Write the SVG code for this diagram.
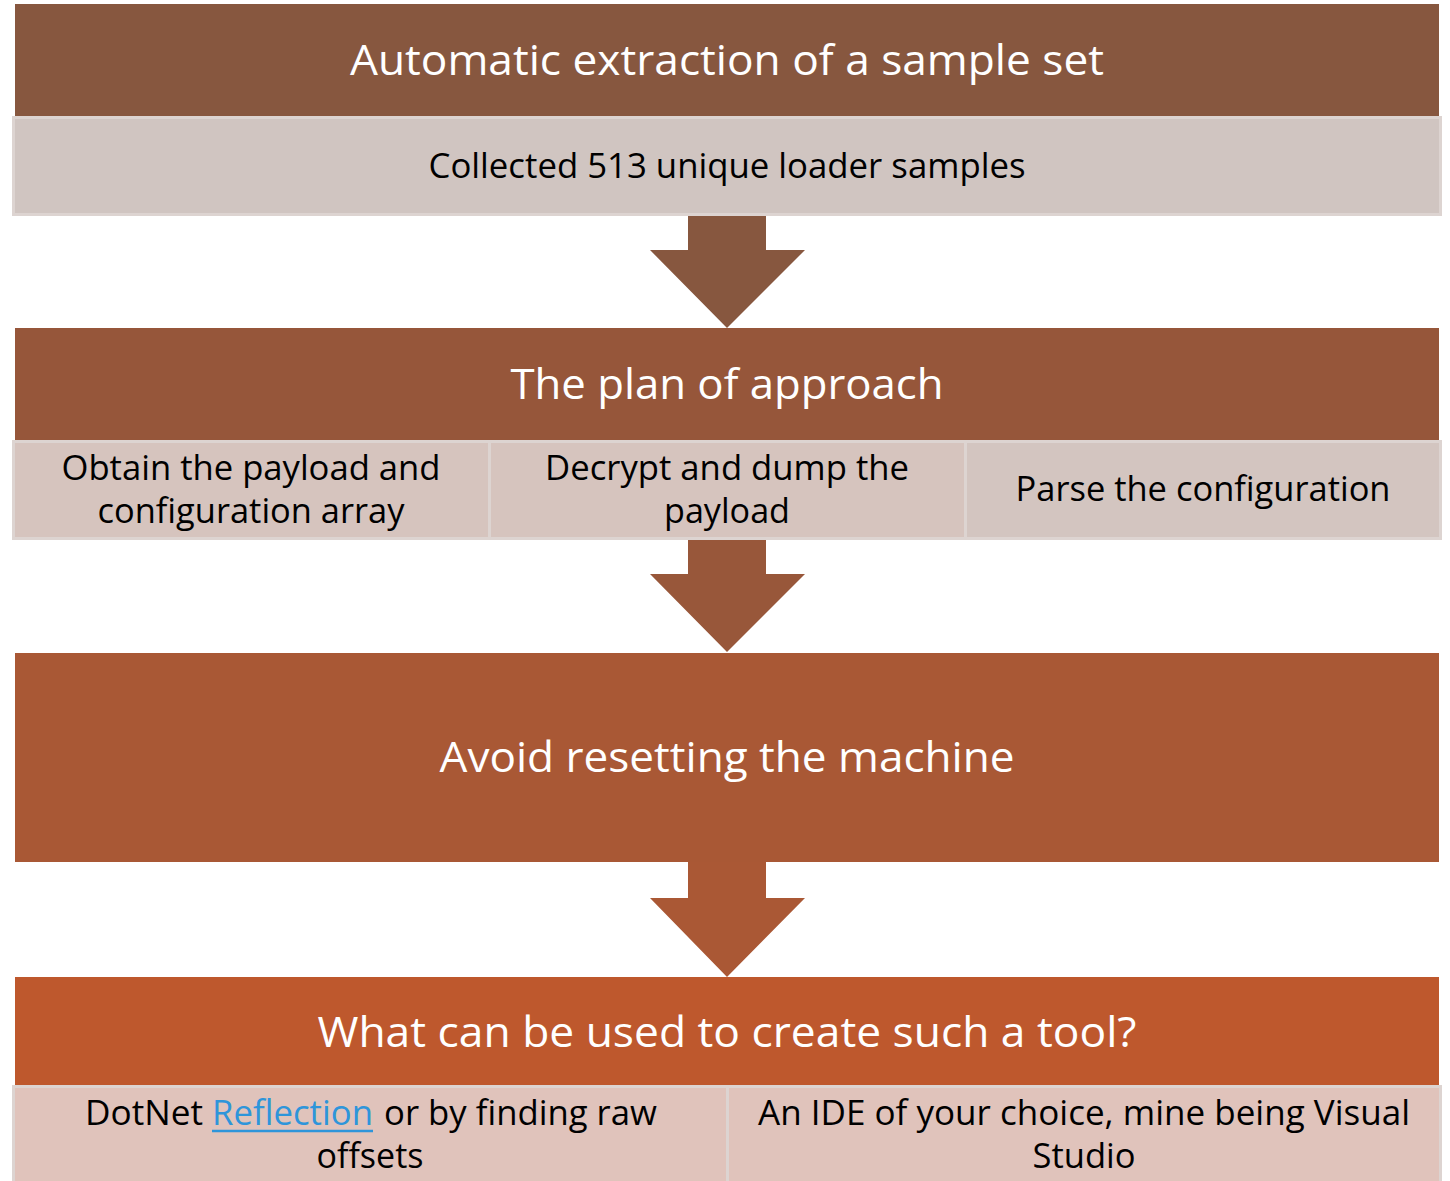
<svg xmlns="http://www.w3.org/2000/svg" width="1450" height="1181" viewBox="0 0 1450 1181">
  <style>
    .title { font-family: "Open Sans", "Liberation Sans", sans-serif; font-size: 42px; fill: #ffffff; text-anchor: middle; }
    .item { font-family: "Open Sans", "Liberation Sans", sans-serif; font-size: 34px; fill: #000000; text-anchor: middle; }
    .itemL { font-family: "Open Sans", "Liberation Sans", sans-serif; font-size: 34px; fill: #000000; }
    .link { font-family: "Open Sans", "Liberation Sans", sans-serif; font-size: 34px; fill: #2E95DA; }
    .cell { stroke: #DDD4D1; stroke-width: 3; }
  </style>
  <rect width="1450" height="1181" fill="#ffffff"/>

  <!-- Step 1 -->
  <g id="step1">
    <rect x="15" y="4" width="1424" height="112" fill="#87573F"/>
    <text class="title" x="727" y="75" textLength="754" lengthAdjust="spacingAndGlyphs">Automatic extraction of a sample set</text>
  </g>
  <g id="step1-detail">
    <rect class="cell" x="13.5" y="117.5" width="1427" height="97" fill="#D0C5C1"/>
    <text class="item" x="727" y="178" textLength="597" lengthAdjust="spacingAndGlyphs">Collected 513 unique loader samples</text>
  </g>

  <!-- Step 2 -->
  <g id="step2">
    <rect x="15" y="328" width="1424" height="112" fill="#96563A"/>
    <text class="title" x="727" y="399" textLength="433" lengthAdjust="spacingAndGlyphs">The plan of approach</text>
  </g>
  <g id="step2-obtain">
    <rect class="cell" x="13.5" y="441.5" width="476" height="97" fill="#D6C4BE"/>
    <text class="item" x="251" y="480" textLength="379" lengthAdjust="spacingAndGlyphs">Obtain the payload and</text>
    <text class="item" x="251" y="523" textLength="307" lengthAdjust="spacingAndGlyphs">configuration array</text>
  </g>
  <g id="step2-decrypt">
    <rect class="cell" x="489.5" y="441.5" width="476" height="97" fill="#D6C4BE"/>
    <text class="item" x="727" y="480" textLength="364" lengthAdjust="spacingAndGlyphs">Decrypt and dump the</text>
    <text class="item" x="727" y="523" textLength="126" lengthAdjust="spacingAndGlyphs">payload</text>
  </g>
  <g id="step2-parse">
    <rect class="cell" x="965.5" y="441.5" width="475" height="97" fill="#D3C5C0"/>
    <text class="item" x="1203" y="501" textLength="375" lengthAdjust="spacingAndGlyphs">Parse the configuration</text>
  </g>

  <!-- Step 3 -->
  <g id="step3">
    <rect x="15" y="653" width="1424" height="209" fill="#A95835"/>
    <text class="title" x="727" y="772" textLength="575" lengthAdjust="spacingAndGlyphs">Avoid resetting the machine</text>
  </g>

  <!-- Step 4 -->
  <g id="step4">
    <rect x="15" y="977" width="1424" height="108" fill="#BE582D"/>
    <text class="title" x="727" y="1047" textLength="819" lengthAdjust="spacingAndGlyphs">What can be used to create such a tool?</text>
  </g>
  <g id="step4-dotnet">
    <rect class="cell" x="13.5" y="1086.5" width="714" height="100" fill="#E0C3BB"/>
    <text class="itemL" x="85" y="1125" textLength="118" lengthAdjust="spacingAndGlyphs">DotNet</text>
    <text class="link" x="212" y="1125" textLength="161" lengthAdjust="spacingAndGlyphs">Reflection</text>
    <line x1="212" y1="1131" x2="373" y2="1131" stroke="#2E95DA" stroke-width="2.5"/>
    <text class="itemL" x="384" y="1125" textLength="273" lengthAdjust="spacingAndGlyphs">or by finding raw</text>
    <text class="item" x="370" y="1168" textLength="107" lengthAdjust="spacingAndGlyphs">offsets</text>
  </g>
  <g id="step4-ide">
    <rect class="cell" x="727.5" y="1086.5" width="713" height="100" fill="#E0C3BB"/>
    <text class="item" x="1084" y="1125" textLength="652" lengthAdjust="spacingAndGlyphs">An IDE of your choice, mine being Visual</text>
    <text class="item" x="1084" y="1168" textLength="103" lengthAdjust="spacingAndGlyphs">Studio</text>
  </g>

  <!-- Connectors: block arrows between steps -->
  <g id="connectors">
    <polygon points="688,216 766,216 766,250 805,250 727,328 650,250 688,250" fill="#87573F"/>
    <polygon points="688,540 766,540 766,574 805,574 727,652 650,574 688,574" fill="#98573A"/>
    <polygon points="688,862 766,862 766,898 805,898 727,977 650,898 688,898" fill="#AA5835"/>
  </g>
</svg>
